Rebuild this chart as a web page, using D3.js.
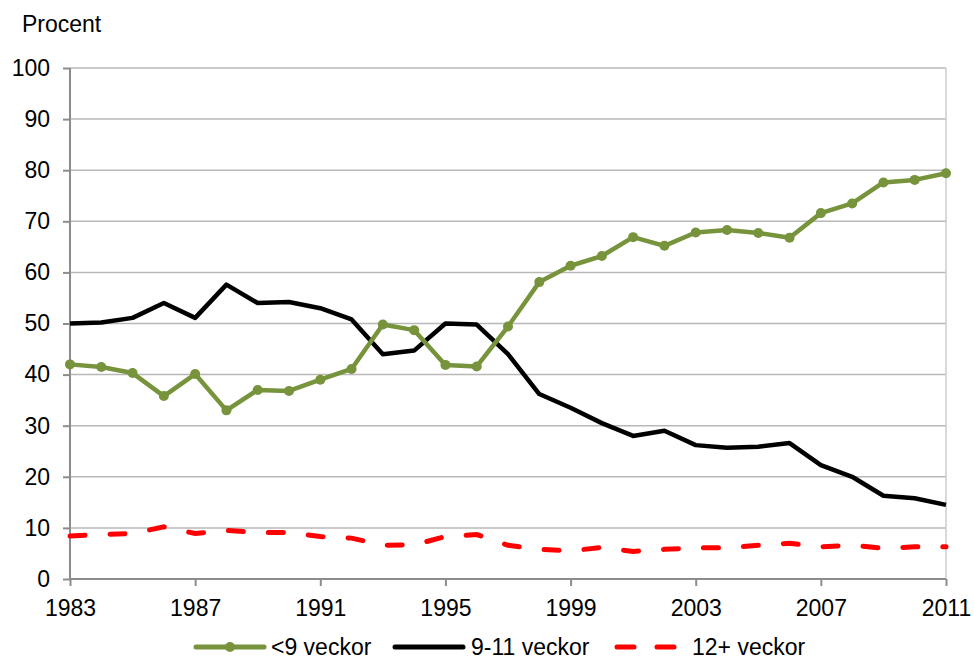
<!DOCTYPE html>
<html>
<head>
<meta charset="utf-8">
<script src="https://cdn.jsdelivr.net/npm/d3@7"></script>
<style>
  body { margin: 0; background: #fff; }
  text { font-family: "Liberation Sans", Arial, sans-serif; fill: #000; }
</style>
</head>
<body>
<div class="chart"></div>
<script>
const years = d3.range(1983, 2012)
const under9 = [42.0, 41.5, 40.3, 35.8, 40.1, 33.0, 37.0, 36.8, 39.0, 41.1,
                49.8, 48.7, 41.9, 41.6, 49.4, 58.1, 61.3, 63.2, 66.9, 65.2,
                67.8, 68.3, 67.7, 66.8, 71.6, 73.5, 77.6, 78.1, 79.4]
const w9to11 = [50.0, 50.2, 51.1, 54.0, 51.1, 57.6, 54.0, 54.2, 53.0, 50.8,
                44.0, 44.7, 50.0, 49.8, 44.0, 36.2, 33.5, 30.5, 28.0, 29.0,
                26.2, 25.7, 25.9, 26.6, 22.3, 20.0, 16.3, 15.8, 14.5]
const over12 = [8.4, 8.7, 8.9, 10.2, 8.9, 9.5, 9.1, 9.1, 8.3, 8.0,
                6.6, 6.7, 8.3, 8.7, 6.6, 5.8, 5.5, 6.2, 5.4, 5.8,
                6.1, 6.1, 6.6, 7.0, 6.3, 6.6, 6.0, 6.3, 6.3]
const yTicks = d3.range(0, 101, 10)
const xTicks = [1983, 1987, 1991, 1995, 1999, 2003, 2007, 2011]

const margin = {top: 68, right: 28, bottom: 81, left: 70}
const width = 974 - margin.left - margin.right,
      height = 660 - margin.top - margin.bottom
const fontSize = "23px"

const svg = d3.select(".chart").append("svg")
    .attr("width", 974)
    .attr("height", 660)
const g = svg.append("g")
    .attr("transform", `translate(${margin.left},${margin.top})`)

const x = d3.scaleLinear().domain([1983, 2011]).range([0, width])
const y = d3.scaleLinear().domain([0, 100]).range([height, 0])

// gridlines
g.append("g").selectAll("line")
  .data(yTicks.filter(d => d > 0))
  .join("line")
    .attr("x1", 0).attr("x2", width)
    .attr("y1", d => y(d)).attr("y2", d => y(d))
    .attr("stroke", "#b8b8b8").attr("stroke-width", 1.5)
g.append("line")
    .attr("x1", width).attr("x2", width)
    .attr("y1", 0).attr("y2", height)
    .attr("stroke", "#cccccc").attr("stroke-width", 1.5)

// axes
const yAxis = d3.axisLeft(y).tickValues(yTicks).tickSize(7).tickPadding(13)
const xAxis = d3.axisBottom(x).tickValues(xTicks).tickFormat(d3.format("d")).tickSize(7).tickPadding(14)

g.append("g").attr("class", "axis y-axis").call(yAxis)
g.append("g").attr("class", "axis x-axis")
    .attr("transform", `translate(0,${height})`).call(xAxis)

g.selectAll(".axis path, .axis line").attr("stroke", "#8c8c8c").attr("stroke-width", 2)
g.select(".y-axis .domain").attr("d", `M0,0V${height}`)
g.select(".x-axis .domain").attr("d", `M0,0H${width}`)
g.selectAll(".axis text")
    .style("font-size", fontSize)
    .style("font-family", "'Liberation Sans', Arial, sans-serif")
    .attr("fill", "#000")

svg.append("text")
    .attr("x", 22).attr("y", 32)
    .style("font-size", fontSize)
    .text("Procent")

const line = d3.line()
    .x((d, i) => x(years[i]))
    .y(d => y(d))

g.append("path").datum(over12)
    .attr("d", line)
    .attr("fill", "none")
    .attr("stroke", "#ff0000")
    .attr("stroke-width", 5)
    .attr("stroke-linecap", "round")
    .attr("stroke-dasharray", "15,25")

g.append("path").datum(w9to11)
    .attr("d", line)
    .attr("fill", "none")
    .attr("stroke", "#000")
    .attr("stroke-width", 4.5)
    .attr("stroke-linejoin", "round")

g.append("path").datum(under9)
    .attr("d", line)
    .attr("fill", "none")
    .attr("stroke", "#77933c")
    .attr("stroke-width", 4.5)
    .attr("stroke-linejoin", "round")

g.append("g").selectAll("circle")
  .data(under9)
  .join("circle")
    .attr("cx", (d, i) => x(years[i]))
    .attr("cy", d => y(d))
    .attr("r", 5)
    .attr("fill", "#77933c")

// legend
const leg = svg.append("g").attr("transform", "translate(0,647)")
leg.append("line").attr("x1", 196).attr("x2", 264)
    .attr("stroke", "#77933c").attr("stroke-width", 5).attr("stroke-linecap", "round")
leg.append("circle").attr("cx", 230).attr("r", 5).attr("fill", "#77933c")
leg.append("text").attr("x", 271).attr("y", 8).style("font-size", fontSize).text("<9 veckor")

leg.append("line").attr("x1", 395).attr("x2", 463)
    .attr("stroke", "#000").attr("stroke-width", 5).attr("stroke-linecap", "round")
leg.append("text").attr("x", 471).attr("y", 8).style("font-size", fontSize).text("9-11 veckor")

leg.append("line").attr("x1", 617).attr("x2", 634)
    .attr("stroke", "#ff0000").attr("stroke-width", 5).attr("stroke-linecap", "round")
leg.append("line").attr("x1", 657).attr("x2", 674)
    .attr("stroke", "#ff0000").attr("stroke-width", 5).attr("stroke-linecap", "round")
leg.append("text").attr("x", 692).attr("y", 8).style("font-size", fontSize).text("12+ veckor")
</script>
</body>
</html>
